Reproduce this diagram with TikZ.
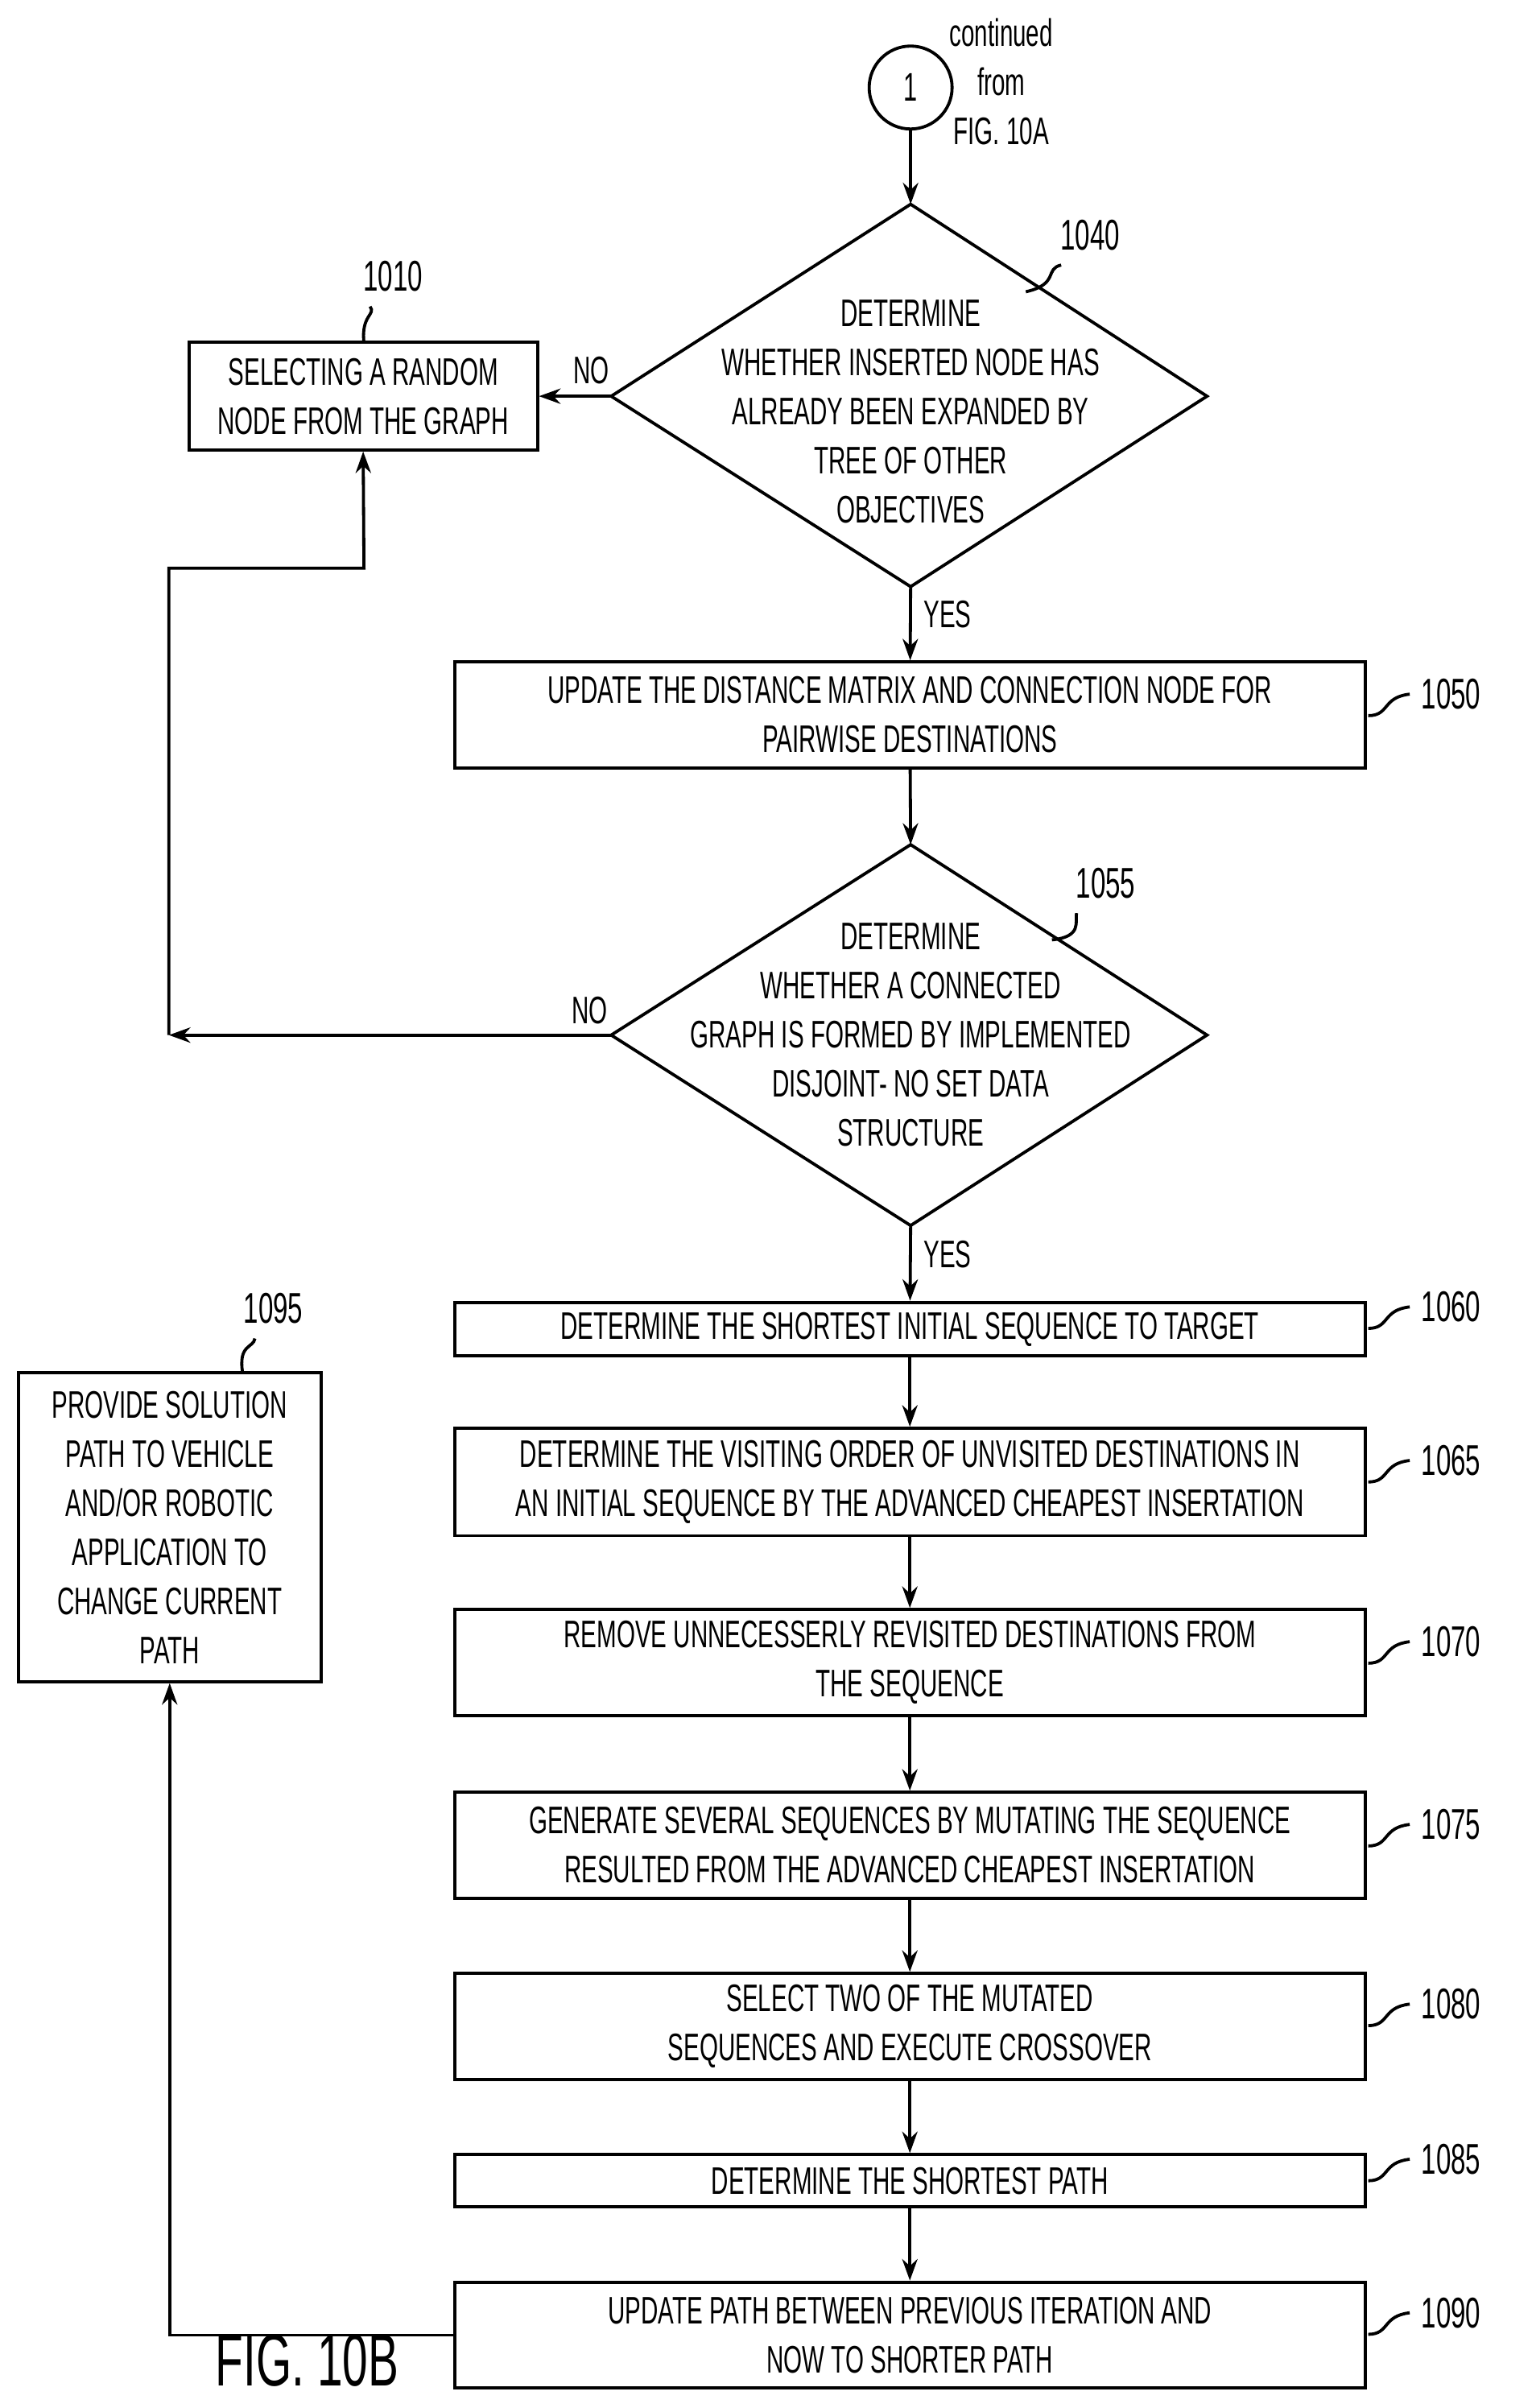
\documentclass[tikz,border=0pt]{standalone}
\usepackage{fontspec}
\setmainfont{Liberation Sans}[FakeStretch=0.62]
\usetikzlibrary{shapes.geometric,arrows.meta}
\begin{document}
\begin{tikzpicture}[x=0.5pt,y=-0.5pt,line width=1pt,
 box/.style={draw,rectangle,align=center,inner sep=0pt,font=\fontsize{12.5}{16}\selectfont},
 dia/.style={draw,diamond,align=center,inner sep=0pt,font=\fontsize{12.5}{16}\selectfont},
 lab/.style={font=\fontsize{14}{16}\selectfont},
 txt/.style={font=\fontsize{12.5}{16}\selectfont},
 arr/.style={-{Stealth[length=7pt,width=5pt]}}]
\useasboundingbox (0,0) rectangle (1000,1568);
\newcommand\bx[6]{\node[box,minimum width=#3*0.5pt,minimum height=#4*0.5pt] (#1) at (#2) {#5};}
% circle
\node[draw,circle,minimum size=27pt,inner sep=0pt,font=\fontsize{13}{16}\selectfont] (c1) at (593,57) {1};
\node[txt,align=center] (cont) at (652,53) {continued\\from\\FIG. 10A};
% diamond 1040
\coordinate (d1t) at (593,133); \coordinate (d1b) at (593,382);
\coordinate (d1l) at (398,258); \coordinate (d1r) at (786,258);
\draw (d1t)--(d1r)--(d1b)--(d1l)--cycle;
\node[txt,align=center] (d1) at (593,268) {DETERMINE\\WHETHER INSERTED NODE HAS\\ALREADY BEEN EXPANDED BY\\TREE OF OTHER\\OBJECTIVES};
% box 1010
\node[box,minimum width=113.5pt,minimum height=35pt] (b1010) at (236.5,258) {SELECTING A RANDOM\\NODE FROM THE GRAPH};
% box 1050
\node[box,minimum width=296.5pt,minimum height=34.5pt] (b1050) at (592.5,465.5) {UPDATE THE DISTANCE MATRIX AND CONNECTION NODE FOR\\PAIRWISE DESTINATIONS};
% diamond 1055
\coordinate (d2t) at (593,550); \coordinate (d2b) at (593,798);
\coordinate (d2l) at (398,674); \coordinate (d2r) at (786,674);
\draw (d2t)--(d2r)--(d2b)--(d2l)--cycle;
\node[txt,align=center] (d2) at (593,674) {DETERMINE\\WHETHER A CONNECTED\\GRAPH IS FORMED BY IMPLEMENTED\\DISJOINT- NO SET DATA\\STRUCTURE};
% boxes
\node[box,minimum width=296.5pt,minimum height=17.5pt] (b1060) at (592.5,865.5) {DETERMINE THE SHORTEST INITIAL SEQUENCE TO TARGET};
\node[box,minimum width=296.5pt,minimum height=35pt] (b1065) at (592.5,965) {DETERMINE THE VISITING ORDER OF UNVISITED DESTINATIONS IN\\AN INITIAL SEQUENCE BY THE ADVANCED CHEAPEST INSERTATION};
\node[box,minimum width=296.5pt,minimum height=34.5pt] (b1070) at (592.5,1082.5) {REMOVE UNNECESSERLY REVISITED DESTINATIONS FROM\\THE SEQUENCE};
\node[box,minimum width=296.5pt,minimum height=34.5pt] (b1075) at (592.5,1201.5) {GENERATE SEVERAL SEQUENCES BY MUTATING THE SEQUENCE\\RESULTED FROM THE ADVANCED CHEAPEST INSERTATION};
\node[box,minimum width=296.5pt,minimum height=34.5pt] (b1080) at (592.5,1319.5) {SELECT TWO OF THE MUTATED\\SEQUENCES AND EXECUTE CROSSOVER};
\node[box,minimum width=296.5pt,minimum height=17pt] (b1085) at (592.5,1420) {DETERMINE THE SHORTEST PATH};
\node[box,minimum width=296.5pt,minimum height=34.5pt] (b1090) at (592.5,1520.5) {UPDATE PATH BETWEEN PREVIOUS ITERATION AND\\NOW TO SHORTER PATH};
\node[box,minimum width=98.5pt,minimum height=100.5pt] (b1095) at (110.5,994.5) {PROVIDE SOLUTION\\PATH TO VEHICLE\\AND/OR ROBOTIC\\APPLICATION TO\\CHANGE CURRENT\\PATH};
% connectors
\draw[arr] (c1) -- (d1t);
\draw[arr] (d1l) -- (b1010);
\node[txt] (no1) at (385,241) {NO};
\draw[arr] (d1b) -- (b1050);
\node[txt] (yes1) at (617,400) {YES};
\draw[arr] (b1050) -- (d2t);
\coordinate (lp) at (110,674);
\draw[arr] (d2l) -- (lp);
\node[txt] (no2) at (384,658) {NO};
\draw[arr] (lp) |- (237,370) -- (b1010.south);
\draw[arr] (d2b) -- (b1060);
\node[txt] (yes2) at (617,817) {YES};
\draw[arr] (b1060) -- (b1065);
\draw[arr] (b1065) -- (b1070);
\draw[arr] (b1070) -- (b1075);
\draw[arr] (b1075) -- (b1080);
\draw[arr] (b1080) -- (b1085);
\draw[arr] (b1085) -- (b1090);
\draw[arr] (b1090.west) -| (b1095.south);
% reference labels
\node[lab] (l1040) at (710,153) {1040};
\draw (l1040.south west) ++(8,2) .. controls (680,175) and (690,185) .. (668,190);
\node[lab] (l1010) at (256,180) {1010};
\draw (l1010.south) ++(-15,2) .. controls (245,205) and (235,205) .. (237,223);
\node[lab] (l1055) at (720,575) {1055};
\draw (l1055.south west) ++(8,2) .. controls (700,600) and (705,610) .. (685,612);
\node[lab] (l1095) at (178,852) {1095};
\draw (l1095.south) ++(-12,2) .. controls (165,878) and (155,875) .. (158,894);
\foreach \n/\y in {1050/452,1060/851,1065/951,1070/1069,1075/1188,1080/1305,1085/1406,1090/1506}{
 \node[lab,anchor=west] (l\n) at (918,\y) {\n};
 \draw (891,\y+14) .. controls (905,\y+14) and (900,\y+2) .. (l\n.west);
}
\node[font=\fontsize{24}{28}\selectfont] (fig) at (200,1537) {FIG. 10B};
\end{tikzpicture}
\end{document}
